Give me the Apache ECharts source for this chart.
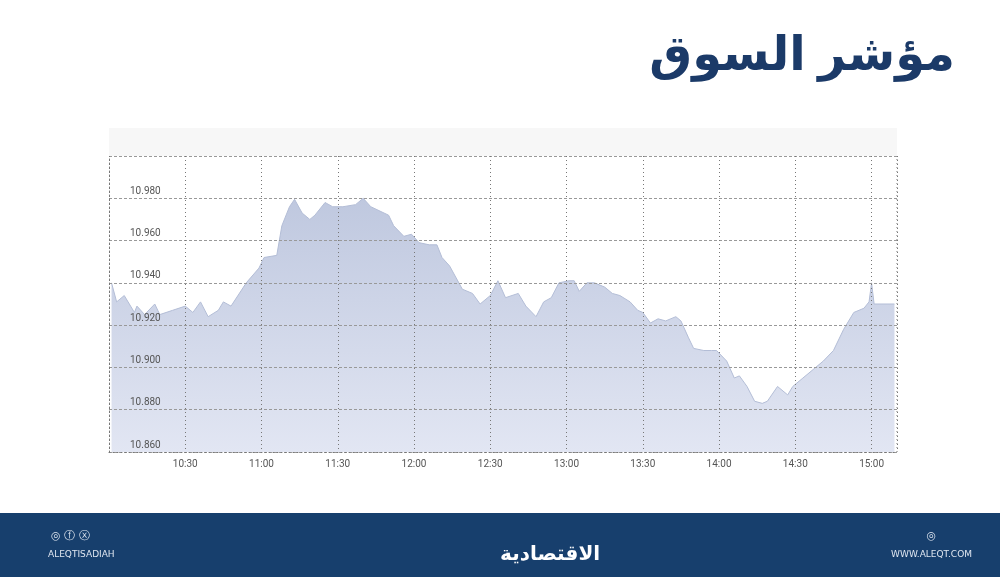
<!DOCTYPE html>
<html><head><meta charset="utf-8">
<script src="https://cdn.jsdelivr.net/npm/echarts@6/dist/echarts.min.js"></script>
<style>html,body{margin:0;padding:0;background:#fff}#c{width:1000px;height:577px}</style>
</head><body><div id="c"></div>
<script>
const times = ["10:01","10:03","10:06","10:10","10:11","10:14","10:18","10:20","10:25","10:30","10:33","10:36","10:39","10:43","10:45","10:48","10:54","10:59","11:01","11:06","11:08","11:11","11:13","11:16","11:19","11:21","11:25","11:28","11:32","11:37","11:40","11:43","11:50","11:52","11:56","11:59","12:02","12:06","12:09","12:11","12:14","12:19","12:23","12:26","12:30","12:33","12:36","12:41","12:44","12:48","12:51","12:54","12:57","13:01","13:03","13:05","13:08","13:11","13:15","13:18","13:21","13:25","13:28","13:30","13:33","13:36","13:39","13:43","13:45","13:48","13:50","13:54","13:57","13:59","14:03","14:06","14:08","14:11","14:14","14:17","14:19","14:23","14:27","14:29","14:33","14:37","14:41","14:45","14:49","14:53","14:57","14:59","15:00","15:01","15:09"];
const values = [10.940,10.931,10.934,10.926,10.929,10.925,10.930,10.925,10.927,10.929,10.926,10.931,10.924,10.927,10.931,10.929,10.940,10.947,10.952,10.953,10.967,10.976,10.9795,10.973,10.970,10.972,10.978,10.976,10.976,10.977,10.980,10.976,10.972,10.967,10.962,10.963,10.959,10.958,10.958,10.952,10.948,10.937,10.935,10.930,10.934,10.941,10.933,10.935,10.929,10.924,10.931,10.933,10.940,10.941,10.941,10.936,10.940,10.940,10.938,10.935,10.934,10.931,10.927,10.926,10.921,10.923,10.922,10.924,10.922,10.914,10.909,10.908,10.908,10.908,10.903,10.895,10.896,10.891,10.884,10.883,10.884,10.891,10.887,10.891,10.895,10.899,10.903,10.908,10.918,10.926,10.928,10.931,10.940,10.930,10.930];
const yTicks = ["10.860","10.880","10.900","10.920","10.940","10.960","10.980"];
const xTicks = ["10:30","11:00","11:30","12:00","12:30","13:00","13:30","14:00","14:30","15:00"];
const toMin = s => { const [h,m] = s.split(":").map(Number); return h*60+m; };
const data = times.map((t,i)=>[toMin(t), values[i]]);
const chart = echarts.init(document.getElementById('c'));
const dotted = {type:[1,3], color:'#777', width:1};
chart.setOption({
  animation:false,
  graphic:[
    {type:'rect', shape:{x:109,y:128,width:788,height:28}, style:{fill:'#f7f7f7'}, z:-1},
    {type:'text', right:45, top:32, style:{text:'مؤشر السوق', font:'bold 48px "Noto Sans", "DejaVu Sans", sans-serif', fill:'#1b3a68'}},
    {type:'rect', shape:{x:0,y:513,width:1000,height:64}, style:{fill:'#173f6d'}},
    {type:'text', left:48, top:550, style:{text:'ALEQTISADIAH', font:'9px "DejaVu Sans"', fill:'#dfe6f0'}},
    {type:'text', left:51, top:531, style:{text:'◎ ⓕ ⓧ', font:'11px "DejaVu Sans"', fill:'#dfe6f0'}},
    {type:'text', right:28, top:550, style:{text:'WWW.ALEQT.COM', font:'9px "DejaVu Sans"', fill:'#dfe6f0'}},
    {type:'text', right:64, top:531, style:{text:'◎', font:'11px "DejaVu Sans"', fill:'#dfe6f0'}},
    {type:'text', left:500, top:544, style:{text:'الاقتصادية', font:'bold 20px "Noto Sans", "DejaVu Sans"', fill:'#ffffff', align:'center', verticalAlign:'middle'}}
  ],
  grid:{left:109,right:103,top:156,bottom:125},
  xAxis:{type:'value',min:600,max:910,interval:30,z:10,
    axisLine:{show:true,lineStyle:dotted},axisTick:{show:false},
    splitLine:{show:true,lineStyle:dotted},
    axisLabel:{color:'#555',fontSize:10,margin:7,fontFamily:'Roboto',showMaxLabel:false,
      formatter:v=>{ const h=Math.floor(v/60), m=v%60; const s=h+':'+(m<10?'0':'')+m; return xTicks.includes(s)?s:''; }}},
  yAxis:{type:'value',min:10.86,max:11.0,interval:0.02,z:10,
    axisLine:{show:true,lineStyle:dotted},axisTick:{show:false},
    splitLine:{show:true,lineStyle:{type:[3,2],color:'#999',width:1}},
    axisLabel:{inside:true,margin:21,color:'#555',fontSize:10,fontFamily:'Roboto',verticalAlign:'bottom',padding:[0,0,2,0],
      formatter:v=>{ const s=v.toFixed(3); return yTicks.includes(s)?s:''; }}},
  series:[
    {type:'line',data:data,showSymbol:false,smooth:false,
     lineStyle:{color:'#b3bdd6',width:1},
     areaStyle:{color:new echarts.graphic.LinearGradient(0,0,0,1,[{offset:0,color:'#bfc8df'},{offset:1,color:'#e2e6f3'}]),origin:'start',opacity:1},z:1},
    {type:'line',data:[[910,10.86],[910,11.0]],showSymbol:false,silent:true,lineStyle:dotted,z:3}
  ]
});
</script></body></html>
